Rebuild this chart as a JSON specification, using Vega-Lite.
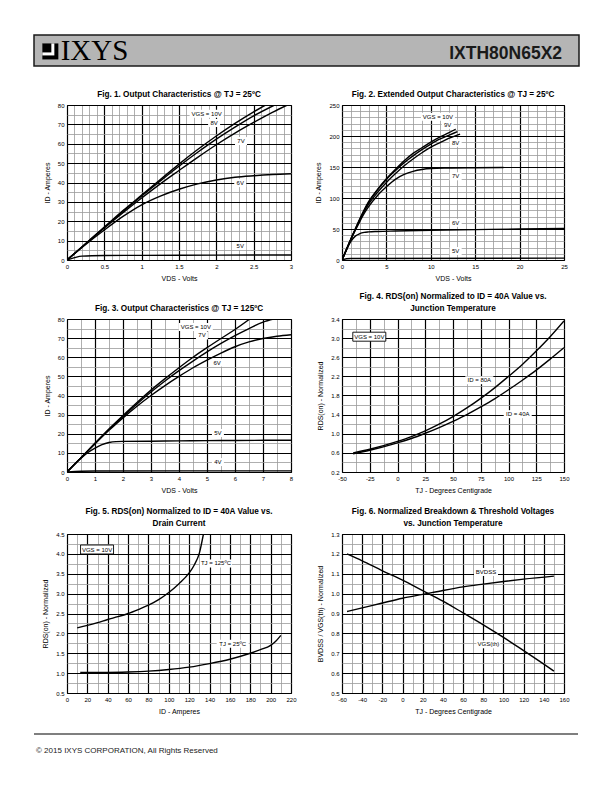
{
"$schema": "https://vega.github.io/schema/vega-lite/v6.json",
"padding": {"left": 33, "top": 34, "right": 5, "bottom": 5},
"background": "white",
"config": {
 "font": "Liberation Sans",
 "view": {"stroke": null},
 "axis": {"labelFont": "Liberation Sans", "labelFontSize": 6, "labelColor": "black", "titleFont": "Liberation Sans", "titleFontSize": 7, "titleFontWeight": "normal", "titleColor": "black", "ticks": false, "domain": false, "labelOverlap": false, "labelFlush": false, "labelPadding": 3, "titlePadding": 5, "gridOpacity": 1},
 "axisY": {"titlePadding": 7},
 "title": {"font": "Liberation Sans", "fontSize": 8.2, "fontWeight": "bold", "color": "black", "offset": 3, "lineHeight": 12},
 "text": {"font": "Liberation Sans"}
},
"datasets": {
 "f1": [
  {"s":"10V","x":0,"y":0},{"s":"10V","x":0.25,"y":8.5},{"s":"10V","x":0.5,"y":17},{"s":"10V","x":0.75,"y":25.5},{"s":"10V","x":1,"y":33.5},{"s":"10V","x":1.25,"y":41.5},{"s":"10V","x":1.5,"y":49.5},{"s":"10V","x":1.75,"y":57},{"s":"10V","x":2,"y":64},{"s":"10V","x":2.25,"y":70.5},{"s":"10V","x":2.5,"y":76.5},{"s":"10V","x":2.66,"y":80},
  {"s":"8V","x":0,"y":0},{"s":"8V","x":0.25,"y":8.4},{"s":"8V","x":0.5,"y":16.8},{"s":"8V","x":0.75,"y":25},{"s":"8V","x":1,"y":33},{"s":"8V","x":1.25,"y":40.8},{"s":"8V","x":1.5,"y":48.4},{"s":"8V","x":1.75,"y":55.6},{"s":"8V","x":2,"y":62.4},{"s":"8V","x":2.25,"y":68.6},{"s":"8V","x":2.5,"y":74.4},{"s":"8V","x":2.78,"y":80},
  {"s":"7V","x":0,"y":0},{"s":"7V","x":0.25,"y":8.3},{"s":"7V","x":0.5,"y":16.5},{"s":"7V","x":0.75,"y":24.4},{"s":"7V","x":1,"y":32},{"s":"7V","x":1.25,"y":39.3},{"s":"7V","x":1.5,"y":46.2},{"s":"7V","x":1.75,"y":53},{"s":"7V","x":2,"y":59.5},{"s":"7V","x":2.25,"y":65.5},{"s":"7V","x":2.5,"y":71},{"s":"7V","x":2.75,"y":76.2},{"s":"7V","x":2.95,"y":80},
  {"s":"6V","x":0,"y":0},{"s":"6V","x":0.25,"y":8},{"s":"6V","x":0.5,"y":15.5},{"s":"6V","x":0.75,"y":22.5},{"s":"6V","x":1,"y":28.5},{"s":"6V","x":1.25,"y":33},{"s":"6V","x":1.5,"y":36.5},{"s":"6V","x":1.75,"y":39.3},{"s":"6V","x":2,"y":41.3},{"s":"6V","x":2.25,"y":42.7},{"s":"6V","x":2.5,"y":43.5},{"s":"6V","x":2.75,"y":44.1},{"s":"6V","x":3,"y":44.5},
  {"s":"5V","x":0,"y":0},{"s":"5V","x":0.1,"y":1.2},{"s":"5V","x":0.2,"y":2},{"s":"5V","x":0.5,"y":2.3},{"s":"5V","x":1,"y":2.4},{"s":"5V","x":2,"y":2.5},{"s":"5V","x":3,"y":2.6}
 ],
 "f1l": [
  {"t":"VGS = 10V","x":1.87,"y":75.5},{"t":"8V","x":1.97,"y":70.7},{"t":"7V","x":2.33,"y":61.4},{"t":"6V","x":2.32,"y":39.7},{"t":"5V","x":2.32,"y":7.2}
 ],
 "f2": [
  {"s":"10V","x":0,"y":0},{"s":"10V","x":0.5,"y":17},{"s":"10V","x":1,"y":34},{"s":"10V","x":1.5,"y":50},{"s":"10V","x":2,"y":66},{"s":"10V","x":2.5,"y":81},{"s":"10V","x":3,"y":94},{"s":"10V","x":4,"y":114},{"s":"10V","x":5,"y":131},{"s":"10V","x":6,"y":146},{"s":"10V","x":7,"y":160},{"s":"10V","x":8,"y":172},{"s":"10V","x":9,"y":181},{"s":"10V","x":10,"y":190},{"s":"10V","x":11,"y":198},{"s":"10V","x":12,"y":205},{"s":"10V","x":12.8,"y":211},
  {"s":"9V","x":0,"y":0},{"s":"9V","x":0.5,"y":17},{"s":"9V","x":1,"y":34},{"s":"9V","x":1.5,"y":50},{"s":"9V","x":2,"y":65.5},{"s":"9V","x":2.5,"y":80},{"s":"9V","x":3,"y":93},{"s":"9V","x":4,"y":113},{"s":"9V","x":5,"y":130},{"s":"9V","x":6,"y":144},{"s":"9V","x":7,"y":157},{"s":"9V","x":8,"y":168},{"s":"9V","x":9,"y":178},{"s":"9V","x":10,"y":187},{"s":"9V","x":11,"y":195},{"s":"9V","x":12,"y":201},{"s":"9V","x":13,"y":207},
  {"s":"8V","x":0,"y":0},{"s":"8V","x":0.5,"y":17},{"s":"8V","x":1,"y":33.5},{"s":"8V","x":1.5,"y":49},{"s":"8V","x":2,"y":64},{"s":"8V","x":2.5,"y":78},{"s":"8V","x":3,"y":90},{"s":"8V","x":4,"y":109},{"s":"8V","x":5,"y":125},{"s":"8V","x":6,"y":139},{"s":"8V","x":7,"y":152},{"s":"8V","x":8,"y":163},{"s":"8V","x":9,"y":173},{"s":"8V","x":10,"y":182},{"s":"8V","x":11,"y":189},{"s":"8V","x":12,"y":196},{"s":"8V","x":13.3,"y":203},
  {"s":"7V","x":0,"y":0},{"s":"7V","x":0.5,"y":16.8},{"s":"7V","x":1,"y":33},{"s":"7V","x":1.5,"y":48},{"s":"7V","x":2,"y":62},{"s":"7V","x":2.5,"y":75},{"s":"7V","x":3,"y":86},{"s":"7V","x":4,"y":104},{"s":"7V","x":5,"y":118},{"s":"7V","x":6,"y":130},{"s":"7V","x":7,"y":138},{"s":"7V","x":8,"y":143},{"s":"7V","x":9,"y":146},{"s":"7V","x":10,"y":147.5},{"s":"7V","x":12,"y":148.3},{"s":"7V","x":15,"y":148.8},{"s":"7V","x":18.2,"y":149.2},
  {"s":"6V","x":0,"y":0},{"s":"6V","x":0.5,"y":16},{"s":"6V","x":1,"y":30},{"s":"6V","x":1.5,"y":38.5},{"s":"6V","x":2,"y":42.5},{"s":"6V","x":2.5,"y":44.5},{"s":"6V","x":3,"y":45.3},{"s":"6V","x":4,"y":46},{"s":"6V","x":6,"y":46.8},{"s":"6V","x":10,"y":48},{"s":"6V","x":15,"y":49},{"s":"6V","x":20,"y":50},{"s":"6V","x":25,"y":50.8},
  {"s":"5V","x":0,"y":0},{"s":"5V","x":0.5,"y":2},{"s":"5V","x":1,"y":2.5},{"s":"5V","x":25,"y":3}
 ],
 "f2l": [
  {"t":"VGS = 10V","x":10.8,"y":231},{"t":"9V","x":11.9,"y":218},{"t":"8V","x":12.8,"y":189},{"t":"7V","x":12.8,"y":135},{"t":"6V","x":12.8,"y":60},{"t":"5V","x":12.8,"y":14.5}
 ],
 "f3": [
  {"s":"10V","x":0,"y":0},{"s":"10V","x":0.5,"y":7.5},{"s":"10V","x":1,"y":15},{"s":"10V","x":1.5,"y":22.5},{"s":"10V","x":2,"y":29.5},{"s":"10V","x":2.5,"y":36.3},{"s":"10V","x":3,"y":42.8},{"s":"10V","x":3.5,"y":48.8},{"s":"10V","x":4,"y":54.5},{"s":"10V","x":4.5,"y":60},{"s":"10V","x":5,"y":65},{"s":"10V","x":5.5,"y":69.8},{"s":"10V","x":6,"y":74.5},{"s":"10V","x":6.53,"y":80},
  {"s":"7V","x":0,"y":0},{"s":"7V","x":0.5,"y":7.5},{"s":"7V","x":1,"y":15},{"s":"7V","x":1.5,"y":22.3},{"s":"7V","x":2,"y":29},{"s":"7V","x":2.5,"y":35.6},{"s":"7V","x":3,"y":41.8},{"s":"7V","x":3.5,"y":47.6},{"s":"7V","x":4,"y":53},{"s":"7V","x":4.5,"y":58},{"s":"7V","x":5,"y":62.8},{"s":"7V","x":5.5,"y":67.2},{"s":"7V","x":6,"y":71.3},{"s":"7V","x":6.5,"y":75},{"s":"7V","x":7,"y":78.4},{"s":"7V","x":7.38,"y":80},
  {"s":"6V","x":0,"y":0},{"s":"6V","x":0.5,"y":7.4},{"s":"6V","x":1,"y":14.7},{"s":"6V","x":1.5,"y":21.8},{"s":"6V","x":2,"y":28.3},{"s":"6V","x":2.5,"y":34.4},{"s":"6V","x":3,"y":40},{"s":"6V","x":3.5,"y":45.2},{"s":"6V","x":4,"y":50},{"s":"6V","x":4.5,"y":54.5},{"s":"6V","x":5,"y":58.5},{"s":"6V","x":5.5,"y":62.2},{"s":"6V","x":6,"y":65.5},{"s":"6V","x":6.5,"y":68},{"s":"6V","x":7,"y":69.8},{"s":"6V","x":7.5,"y":71},{"s":"6V","x":8,"y":71.8},
  {"s":"5V","x":0,"y":0},{"s":"5V","x":0.25,"y":3.8},{"s":"5V","x":0.5,"y":7.2},{"s":"5V","x":0.75,"y":10.2},{"s":"5V","x":1,"y":12.5},{"s":"5V","x":1.25,"y":14.3},{"s":"5V","x":1.5,"y":15.4},{"s":"5V","x":1.75,"y":15.9},{"s":"5V","x":2,"y":16},{"s":"5V","x":3,"y":16.1},{"s":"5V","x":4,"y":16.3},{"s":"5V","x":5,"y":16.4},{"s":"5V","x":6,"y":16.5},{"s":"5V","x":8,"y":16.6},
  {"s":"4V","x":0,"y":0},{"s":"4V","x":0.5,"y":0.4},{"s":"4V","x":1,"y":0.5},{"s":"4V","x":8,"y":0.6}
 ],
 "f3l": [
  {"t":"VGS = 10V","x":4.6,"y":75.8},{"t":"7V","x":4.82,"y":71.4},{"t":"6V","x":5.36,"y":57.2},{"t":"5V","x":5.39,"y":20.4},{"t":"4V","x":5.39,"y":5.2}
 ],
 "f4": [
  {"s":"80A","x":-40,"y":0.6},{"s":"80A","x":-25,"y":0.675},{"s":"80A","x":0,"y":0.84},{"s":"80A","x":12.5,"y":0.94},{"s":"80A","x":25,"y":1.06},{"s":"80A","x":37.5,"y":1.2},{"s":"80A","x":50,"y":1.36},{"s":"80A","x":62.5,"y":1.54},{"s":"80A","x":75,"y":1.74},{"s":"80A","x":87.5,"y":1.96},{"s":"80A","x":100,"y":2.2},{"s":"80A","x":112.5,"y":2.45},{"s":"80A","x":125,"y":2.73},{"s":"80A","x":137.5,"y":3.03},{"s":"80A","x":150,"y":3.36},
  {"s":"40A","x":-40,"y":0.58},{"s":"40A","x":-25,"y":0.655},{"s":"40A","x":0,"y":0.81},{"s":"40A","x":12.5,"y":0.9},{"s":"40A","x":25,"y":1.01},{"s":"40A","x":37.5,"y":1.13},{"s":"40A","x":50,"y":1.26},{"s":"40A","x":62.5,"y":1.4},{"s":"40A","x":75,"y":1.56},{"s":"40A","x":87.5,"y":1.73},{"s":"40A","x":100,"y":1.92},{"s":"40A","x":112.5,"y":2.12},{"s":"40A","x":125,"y":2.33},{"s":"40A","x":137.5,"y":2.56},{"s":"40A","x":150,"y":2.8}
 ],
 "f4l": [
  {"t":"ID = 80A","x":73.7,"y":2.12},{"t":"ID = 40A","x":108.3,"y":1.41}
 ],
 "f4n": [{"t":"VGS = 10V","x":-25.4,"y":3.03}],
 "f5": [
  {"s":"125","x":10,"y":2.14},{"s":"125","x":20,"y":2.2},{"s":"125","x":30,"y":2.27},{"s":"125","x":40,"y":2.35},{"s":"125","x":50,"y":2.42},{"s":"125","x":60,"y":2.5},{"s":"125","x":70,"y":2.6},{"s":"125","x":80,"y":2.71},{"s":"125","x":90,"y":2.85},{"s":"125","x":100,"y":3.03},{"s":"125","x":110,"y":3.25},{"s":"125","x":120,"y":3.52},{"s":"125","x":125,"y":3.72},{"s":"125","x":130,"y":4.02},{"s":"125","x":134,"y":4.5},
  {"s":"25","x":13,"y":1.02},{"s":"25","x":20,"y":1.02},{"s":"25","x":40,"y":1.02},{"s":"25","x":60,"y":1.03},{"s":"25","x":80,"y":1.05},{"s":"25","x":100,"y":1.09},{"s":"25","x":120,"y":1.15},{"s":"25","x":140,"y":1.24},{"s":"25","x":160,"y":1.35},{"s":"25","x":180,"y":1.5},{"s":"25","x":190,"y":1.59},{"s":"25","x":200,"y":1.7},{"s":"25","x":205,"y":1.8},{"s":"25","x":210,"y":1.95}
 ],
 "f5l": [
  {"t":"TJ = 125ºC","x":146.3,"y":3.76},{"t":"TJ = 25ºC","x":162.7,"y":1.74}
 ],
 "f5n": [{"t":"VGS = 10V","x":29.5,"y":4.11}],
 "f6": [
  {"s":"th","x":-55,"y":1.2},{"s":"th","x":-40,"y":1.165},{"s":"th","x":-20,"y":1.115},{"s":"th","x":0,"y":1.068},{"s":"th","x":20,"y":1.015},{"s":"th","x":40,"y":0.962},{"s":"th","x":60,"y":0.903},{"s":"th","x":80,"y":0.843},{"s":"th","x":100,"y":0.78},{"s":"th","x":120,"y":0.713},{"s":"th","x":140,"y":0.645},{"s":"th","x":150,"y":0.61},
  {"s":"bv","x":-55,"y":0.91},{"s":"bv","x":-40,"y":0.928},{"s":"bv","x":-20,"y":0.953},{"s":"bv","x":0,"y":0.977},{"s":"bv","x":20,"y":0.996},{"s":"bv","x":40,"y":1.016},{"s":"bv","x":60,"y":1.034},{"s":"bv","x":80,"y":1.048},{"s":"bv","x":100,"y":1.061},{"s":"bv","x":120,"y":1.073},{"s":"bv","x":150,"y":1.088}
 ],
 "f6l": [
  {"t":"BVDSS","x":82.7,"y":1.109},{"t":"VGS(th)","x":85.1,"y":0.745}
 ]
},
"bounds": "flush",
"spacing": 0,
"vconcat": [
 {
  "width": 545, "height": 31,
  "view": {"fill": "#b5b5b5", "stroke": "#1a1a1a", "strokeWidth": 1.5},
  "layer": [
   {"data": {"values": [{"k": 1}]}, "mark": {"type": "point", "shape": "square", "size": 256, "filled": true, "fill": "black", "opacity": 1},
    "encoding": {"x": {"datum": 0.03, "type": "quantitative", "scale": {"domain": [0, 1]}, "axis": null}, "y": {"datum": 0.47, "type": "quantitative", "scale": {"domain": [0, 1]}, "axis": null}}},
   {"data": {"values": [{"k": 1}]}, "mark": {"type": "point", "shape": "square", "size": 144, "filled": true, "fill": "white", "opacity": 1, "xOffset": -2, "yOffset": -2},
    "encoding": {"x": {"datum": 0.03, "type": "quantitative", "scale": {"domain": [0, 1]}, "axis": null}, "y": {"datum": 0.47, "type": "quantitative", "scale": {"domain": [0, 1]}, "axis": null}}},
   {"data": {"values": [{"k": 1}]}, "mark": {"type": "point", "shape": "square", "size": 81, "filled": true, "fill": "black", "opacity": 1, "xOffset": -3.5, "yOffset": -3.5},
    "encoding": {"x": {"datum": 0.03, "type": "quantitative", "scale": {"domain": [0, 1]}, "axis": null}, "y": {"datum": 0.47, "type": "quantitative", "scale": {"domain": [0, 1]}, "axis": null}}},
   {"data": {"values": [{"t": "IXYS"}]}, "mark": {"type": "text", "font": "Liberation Serif", "fontSize": 29, "align": "left", "baseline": "alphabetic", "color": "black"},
    "encoding": {"x": {"datum": 0.049, "type": "quantitative", "scale": {"domain": [0, 1]}, "axis": null}, "y": {"datum": 0.184, "type": "quantitative", "scale": {"domain": [0, 1]}, "axis": null}, "text": {"field": "t"}}},
   {"data": {"values": [{"t": "IXTH80N65X2"}]}, "mark": {"type": "text", "font": "Liberation Sans", "fontSize": 17.5, "fontWeight": "bold", "align": "right", "baseline": "alphabetic", "color": "#1a1a1a"},
    "encoding": {"x": {"datum": 0.969, "type": "quantitative", "scale": {"domain": [0, 1]}, "axis": null}, "y": {"datum": 0.235, "type": "quantitative", "scale": {"domain": [0, 1]}, "axis": null}, "text": {"field": "t"}}}
  ]
 },
 {"width": 1, "height": 39, "data": {"values": []}, "mark": {"type": "point", "opacity": 0}},
 {
  "bounds": "flush", "spacing": 0,
  "hconcat": [
   {"width": 33, "height": 1, "data": {"values": []}, "mark": {"type": "point", "opacity": 0}},
   {
    "width": 224, "height": 155,
    "view": {"stroke": "black", "strokeWidth": 1},
    "title": {"text": "Fig. 1. Output Characteristics @ TJ = 25ºC"},
    "encoding": {
     "x": {"field": "x", "type": "quantitative", "scale": {"domain": [0, 3], "nice": false, "zero": false},
      "axis": {"title": "VDS - Volts", "values": [0,0.1,0.2,0.3,0.4,0.5,0.6,0.7,0.8,0.9,1,1.1,1.2,1.3,1.4,1.5,1.6,1.7,1.8,1.9,2,2.1,2.2,2.3,2.4,2.5,2.6,2.7,2.8,2.9,3],
       "labelExpr": "abs(datum.value*2-round(datum.value*2))<1e-6 ? toString(datum.value) : ''",
       "gridColor": {"condition": {"test": "abs(datum.value*2-round(datum.value*2))<1e-6", "value": "black"}, "value": "#9a9a9a"},
       "gridWidth": {"condition": {"test": "abs(datum.value*2-round(datum.value*2))<1e-6", "value": 1.2}, "value": 0.8}}},
     "y": {"field": "y", "type": "quantitative", "scale": {"domain": [0, 80], "nice": false, "zero": false},
      "axis": {"title": "ID - Amperes", "values": [0,5,10,15,20,25,30,35,40,45,50,55,60,65,70,75,80],
       "labelExpr": "datum.value%10==0 ? toString(datum.value) : ''",
       "gridColor": {"condition": {"test": "datum.value%10==0", "value": "black"}, "value": "#9a9a9a"},
       "gridWidth": {"condition": {"test": "datum.value%10==0", "value": 1.2}, "value": 0.8}}}
    },
    "layer": [
     {"data": {"name": "f1l"}, "transform": [{"filter": "length(datum.t) >= 8"}], "mark": {"type": "point", "shape": "M-17,-4H17V4H-17Z", "size": 4, "filled": true, "fill": "white", "opacity": 1, "strokeWidth": 0}},
     {"data": {"name": "f1l"}, "transform": [{"filter": "length(datum.t) < 4"}], "mark": {"type": "point", "shape": "M-6,-4H6V4H-6Z", "size": 4, "filled": true, "fill": "white", "opacity": 1, "strokeWidth": 0}},
     {"data": {"name": "f1"}, "mark": {"type": "line", "color": "black", "strokeWidth": 1.4, "clip": true, "interpolate": "monotone"}, "encoding": {"detail": {"field": "s"}}},
     {"data": {"name": "f1l"}, "mark": {"type": "text", "fontSize": 6, "color": "black"}, "encoding": {"text": {"field": "t"}}}
    ]
   },
   {"width": 51, "height": 1, "data": {"values": []}, "mark": {"type": "point", "opacity": 0}},
   {
    "width": 222, "height": 155,
    "view": {"stroke": "black", "strokeWidth": 1},
    "title": {"text": "Fig. 2. Extended Output Characteristics @ TJ = 25ºC"},
    "encoding": {
     "x": {"field": "x", "type": "quantitative", "scale": {"domain": [0, 25], "nice": false, "zero": false},
      "axis": {"title": "VDS - Volts", "values": [0,1,2,3,4,5,6,7,8,9,10,11,12,13,14,15,16,17,18,19,20,21,22,23,24,25],
       "labelExpr": "datum.value%5==0 ? toString(datum.value) : ''",
       "gridColor": {"condition": {"test": "datum.value%5==0", "value": "black"}, "value": "#9a9a9a"},
       "gridWidth": {"condition": {"test": "datum.value%5==0", "value": 1.2}, "value": 0.8}}},
     "y": {"field": "y", "type": "quantitative", "scale": {"domain": [0, 250], "nice": false, "zero": false},
      "axis": {"title": "ID - Amperes", "values": [0,10,20,30,40,50,60,70,80,90,100,110,120,130,140,150,160,170,180,190,200,210,220,230,240,250],
       "labelExpr": "datum.value%50==0 ? toString(datum.value) : ''",
       "gridColor": {"condition": {"test": "datum.value%50==0", "value": "black"}, "value": "#9a9a9a"},
       "gridWidth": {"condition": {"test": "datum.value%50==0", "value": 1.2}, "value": 0.8}}}
    },
    "layer": [
     {"data": {"name": "f2l"}, "transform": [{"filter": "length(datum.t) >= 8"}], "mark": {"type": "point", "shape": "M-17,-4H17V4H-17Z", "size": 4, "filled": true, "fill": "white", "opacity": 1, "strokeWidth": 0}},
     {"data": {"name": "f2l"}, "transform": [{"filter": "length(datum.t) < 4"}], "mark": {"type": "point", "shape": "M-6,-4H6V4H-6Z", "size": 4, "filled": true, "fill": "white", "opacity": 1, "strokeWidth": 0}},
     {"data": {"name": "f2"}, "mark": {"type": "line", "color": "black", "strokeWidth": 1.4, "clip": true, "interpolate": "monotone"}, "encoding": {"detail": {"field": "s"}}},
     {"data": {"name": "f2l"}, "mark": {"type": "text", "fontSize": 6, "color": "black"}, "encoding": {"text": {"field": "t"}}}
    ]
   }
  ]
 },
 {"width": 1, "height": 214, "data": {"values": []}, "mark": {"type": "point", "opacity": 0}},
 {
  "bounds": "flush", "spacing": 0,
  "hconcat": [
   {"width": 33, "height": 1, "data": {"values": []}, "mark": {"type": "point", "opacity": 0}},
   {
    "width": 224, "height": 153,
    "view": {"stroke": "black", "strokeWidth": 1},
    "title": {"text": "Fig. 3. Output Characteristics @ TJ = 125ºC"},
    "encoding": {
     "x": {"field": "x", "type": "quantitative", "scale": {"domain": [0, 8], "nice": false, "zero": false},
      "axis": {"title": "VDS - Volts", "values": [0,0.5,1,1.5,2,2.5,3,3.5,4,4.5,5,5.5,6,6.5,7,7.5,8],
       "labelExpr": "datum.value%1==0 ? toString(datum.value) : ''",
       "gridColor": {"condition": {"test": "datum.value%1==0", "value": "black"}, "value": "#9a9a9a"},
       "gridWidth": {"condition": {"test": "datum.value%1==0", "value": 1.2}, "value": 0.8}}},
     "y": {"field": "y", "type": "quantitative", "scale": {"domain": [0, 80], "nice": false, "zero": false},
      "axis": {"title": "ID - Amperes", "values": [0,5,10,15,20,25,30,35,40,45,50,55,60,65,70,75,80],
       "labelExpr": "datum.value%10==0 ? toString(datum.value) : ''",
       "gridColor": {"condition": {"test": "datum.value%10==0", "value": "black"}, "value": "#9a9a9a"},
       "gridWidth": {"condition": {"test": "datum.value%10==0", "value": 1.2}, "value": 0.8}}}
    },
    "layer": [
     {"data": {"name": "f3l"}, "transform": [{"filter": "length(datum.t) >= 8"}], "mark": {"type": "point", "shape": "M-17,-4H17V4H-17Z", "size": 4, "filled": true, "fill": "white", "opacity": 1, "strokeWidth": 0}},
     {"data": {"name": "f3l"}, "transform": [{"filter": "length(datum.t) < 4"}], "mark": {"type": "point", "shape": "M-6,-4H6V4H-6Z", "size": 4, "filled": true, "fill": "white", "opacity": 1, "strokeWidth": 0}},
     {"data": {"name": "f3"}, "mark": {"type": "line", "color": "black", "strokeWidth": 1.4, "clip": true, "interpolate": "monotone"}, "encoding": {"detail": {"field": "s"}}},
     {"data": {"name": "f3l"}, "mark": {"type": "text", "fontSize": 6, "color": "black"}, "encoding": {"text": {"field": "t"}}}
    ]
   },
   {"width": 51, "height": 1, "data": {"values": []}, "mark": {"type": "point", "opacity": 0}},
   {
    "width": 222, "height": 153,
    "view": {"stroke": "black", "strokeWidth": 1},
    "title": {"text": ["Fig. 4. RDS(on) Normalized to ID = 40A Value vs.", "Junction Temperature"]},
    "encoding": {
     "x": {"field": "x", "type": "quantitative", "scale": {"domain": [-50, 150], "nice": false, "zero": false},
      "axis": {"title": "TJ - Degrees Centigrade", "values": [-50,-37.5,-25,-12.5,0,12.5,25,37.5,50,62.5,75,87.5,100,112.5,125,137.5,150],
       "labelExpr": "datum.value%25==0 ? toString(datum.value) : ''",
       "gridColor": {"condition": {"test": "datum.value%25==0", "value": "black"}, "value": "#9a9a9a"},
       "gridWidth": {"condition": {"test": "datum.value%25==0", "value": 1.2}, "value": 0.8}}},
     "y": {"field": "y", "type": "quantitative", "scale": {"domain": [0.2, 3.4], "nice": false, "zero": false},
      "axis": {"title": "RDS(on) - Normalized", "values": [0.2,0.4,0.6,0.8,1,1.2,1.4,1.6,1.8,2,2.2,2.4,2.6,2.8,3,3.2,3.4],
       "labelExpr": "abs((datum.value-0.2)/0.4-round((datum.value-0.2)/0.4))<1e-6 ? format(datum.value, '.1f') : ''",
       "gridColor": {"condition": {"test": "abs((datum.value-0.2)/0.4-round((datum.value-0.2)/0.4))<1e-6", "value": "black"}, "value": "#9a9a9a"},
       "gridWidth": {"condition": {"test": "abs((datum.value-0.2)/0.4-round((datum.value-0.2)/0.4))<1e-6", "value": 1.2}, "value": 0.8}}}
    },
    "layer": [
     {"data": {"name": "f4l"}, "mark": {"type": "point", "shape": "M-14,-4H14V4H-14Z", "size": 4, "filled": true, "fill": "white", "opacity": 1, "strokeWidth": 0}},
     {"data": {"name": "f4n"}, "mark": {"type": "point", "shape": "M-16.5,-4.5H16.5V4.5H-16.5Z", "size": 4, "filled": true, "fill": "white", "stroke": "black", "strokeWidth": 0.9, "opacity": 1}},
     {"data": {"name": "f4"}, "mark": {"type": "line", "color": "black", "strokeWidth": 1.4, "clip": true, "interpolate": "monotone"}, "encoding": {"detail": {"field": "s"}}},
     {"data": {"name": "f4l"}, "mark": {"type": "text", "fontSize": 6, "color": "black"}, "encoding": {"text": {"field": "t"}}},
     {"data": {"name": "f4n"}, "mark": {"type": "text", "fontSize": 6, "color": "black"}, "encoding": {"text": {"field": "t"}}}
    ]
   }
  ]
 },
 {"width": 1, "height": 215, "data": {"values": []}, "mark": {"type": "point", "opacity": 0}},
 {
  "bounds": "flush", "spacing": 0,
  "hconcat": [
   {"width": 33, "height": 1, "data": {"values": []}, "mark": {"type": "point", "opacity": 0}},
   {
    "width": 224, "height": 159,
    "view": {"stroke": "black", "strokeWidth": 1},
    "title": {"text": ["Fig. 5. RDS(on) Normalized to ID = 40A Value vs.", "Drain Current"]},
    "encoding": {
     "x": {"field": "x", "type": "quantitative", "scale": {"domain": [0, 220], "nice": false, "zero": false},
      "axis": {"title": "ID - Amperes", "values": [0,10,20,30,40,50,60,70,80,90,100,110,120,130,140,150,160,170,180,190,200,210,220],
       "labelExpr": "datum.value%20==0 ? toString(datum.value) : ''",
       "gridColor": {"condition": {"test": "datum.value%20==0", "value": "black"}, "value": "#9a9a9a"},
       "gridWidth": {"condition": {"test": "datum.value%20==0", "value": 1.2}, "value": 0.8}}},
     "y": {"field": "y", "type": "quantitative", "scale": {"domain": [0.5, 4.5], "nice": false, "zero": false},
      "axis": {"title": "RDS(on) - Normalized", "values": [0.5,0.75,1,1.25,1.5,1.75,2,2.25,2.5,2.75,3,3.25,3.5,3.75,4,4.25,4.5],
       "labelExpr": "abs(datum.value*2-round(datum.value*2))<1e-6 ? format(datum.value, '.1f') : ''",
       "gridColor": {"condition": {"test": "abs(datum.value*2-round(datum.value*2))<1e-6", "value": "black"}, "value": "#9a9a9a"},
       "gridWidth": {"condition": {"test": "abs(datum.value*2-round(datum.value*2))<1e-6", "value": 1.2}, "value": 0.8}}}
    },
    "layer": [
     {"data": {"name": "f5l"}, "mark": {"type": "point", "shape": "M-16,-4H16V4H-16Z", "size": 4, "filled": true, "fill": "white", "opacity": 1, "strokeWidth": 0}},
     {"data": {"name": "f5n"}, "mark": {"type": "point", "shape": "M-16.5,-4.5H16.5V4.5H-16.5Z", "size": 4, "filled": true, "fill": "white", "stroke": "black", "strokeWidth": 0.9, "opacity": 1}},
     {"data": {"name": "f5"}, "mark": {"type": "line", "color": "black", "strokeWidth": 1.4, "clip": true, "interpolate": "monotone"}, "encoding": {"detail": {"field": "s"}}},
     {"data": {"name": "f5l"}, "mark": {"type": "text", "fontSize": 6, "color": "black"}, "encoding": {"text": {"field": "t"}}},
     {"data": {"name": "f5n"}, "mark": {"type": "text", "fontSize": 6, "color": "black"}, "encoding": {"text": {"field": "t"}}}
    ]
   },
   {"width": 51, "height": 1, "data": {"values": []}, "mark": {"type": "point", "opacity": 0}},
   {
    "width": 222, "height": 159,
    "view": {"stroke": "black", "strokeWidth": 1},
    "title": {"text": ["Fig. 6. Normalized Breakdown & Threshold Voltages", "vs. Junction Temperature"]},
    "encoding": {
     "x": {"field": "x", "type": "quantitative", "scale": {"domain": [-60, 160], "nice": false, "zero": false},
      "axis": {"title": "TJ - Degrees Centigrade", "values": [-60,-50,-40,-30,-20,-10,0,10,20,30,40,50,60,70,80,90,100,110,120,130,140,150,160],
       "labelExpr": "datum.value%20==0 ? toString(datum.value) : ''",
       "gridColor": {"condition": {"test": "datum.value%20==0", "value": "black"}, "value": "#9a9a9a"},
       "gridWidth": {"condition": {"test": "datum.value%20==0", "value": 1.2}, "value": 0.8}}},
     "y": {"field": "y", "type": "quantitative", "scale": {"domain": [0.5, 1.3], "nice": false, "zero": false},
      "axis": {"title": "BVDSS / VGS(th) - Normalized", "values": [0.5,0.55,0.6,0.65,0.7,0.75,0.8,0.85,0.9,0.95,1,1.05,1.1,1.15,1.2,1.25,1.3],
       "labelExpr": "abs(datum.value*10-round(datum.value*10))<1e-6 ? format(datum.value, '.1f') : ''",
       "gridColor": {"condition": {"test": "abs(datum.value*10-round(datum.value*10))<1e-6", "value": "black"}, "value": "#9a9a9a"},
       "gridWidth": {"condition": {"test": "abs(datum.value*10-round(datum.value*10))<1e-6", "value": 1.2}, "value": 0.8}}}
    },
    "layer": [
     {"data": {"name": "f6l"}, "mark": {"type": "point", "shape": "M-12,-4H12V4H-12Z", "size": 4, "filled": true, "fill": "white", "opacity": 1, "strokeWidth": 0}},
     {"data": {"name": "f6"}, "mark": {"type": "line", "color": "black", "strokeWidth": 1.4, "clip": true, "interpolate": "monotone"}, "encoding": {"detail": {"field": "s"}}},
     {"data": {"name": "f6l"}, "mark": {"type": "text", "fontSize": 6, "color": "black"}, "encoding": {"text": {"field": "t"}}}
    ]
   }
  ]
 },
 {"width": 1, "height": 200, "data": {"values": []}, "mark": {"type": "point", "opacity": 0}},
 {
  "width": 544, "height": 19,
  "layer": [
   {"data": {"values": [{"k": 1}]}, "mark": {"type": "rule", "color": "black", "strokeWidth": 1.2},
    "encoding": {"x": {"datum": 0, "type": "quantitative", "scale": {"domain": [0, 1]}, "axis": null}, "x2": {"datum": 1}, "y": {"datum": 1, "type": "quantitative", "scale": {"domain": [0, 1]}, "axis": null}}},
   {"data": {"values": [{"t": "© 2015 IXYS CORPORATION, All Rights Reserved"}]}, "mark": {"type": "text", "fontSize": 8, "align": "left", "baseline": "alphabetic", "color": "#222222", "dx": 2},
    "encoding": {"x": {"datum": 0, "type": "quantitative", "scale": {"domain": [0, 1]}, "axis": null}, "y": {"datum": 0, "type": "quantitative", "scale": {"domain": [0, 1]}, "axis": null}, "text": {"field": "t"}}}
  ]
 }
]
}
